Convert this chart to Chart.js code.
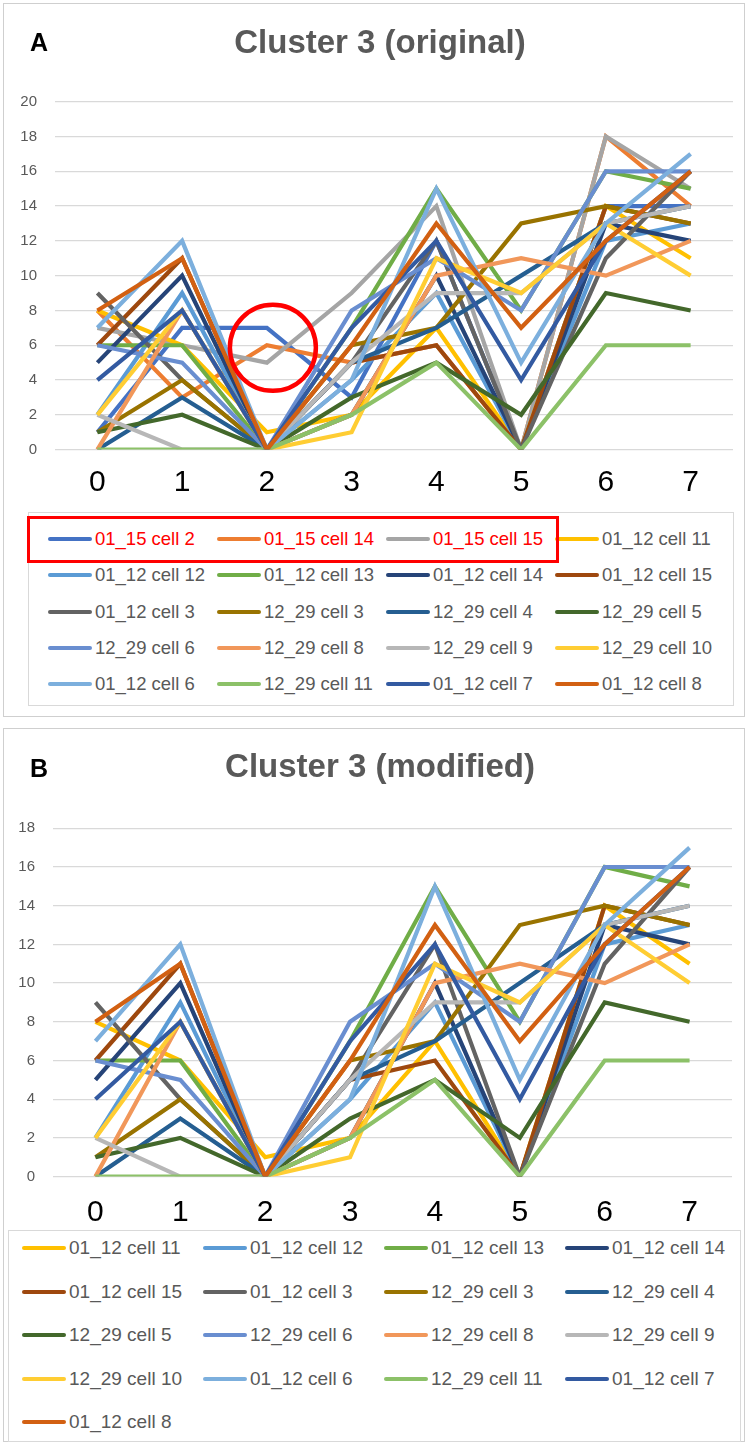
<!DOCTYPE html>
<html>
<head>
<meta charset="utf-8">
<script src="https://cdn.jsdelivr.net/npm/chart.js@4.4.1/dist/chart.umd.min.js"></script>
<style>
  body { margin: 0; background: #fff; font-family: "Liberation Sans", Arial, sans-serif; }
  #page { position: relative; width: 756px; height: 1444px; overflow: hidden; }
  .panel { position: absolute; left: 3px; width: 740px; border: 1px solid #cfcfcf; }
  .tag { position: absolute; font-weight: bold; font-size: 25px; color: #000; line-height: 25px; }
  .title { position: absolute; left: 0; width: 760px; text-align: center; font-weight: bold;
           font-size: 33px; line-height: 40px; color: #595959; }
  canvas { position: absolute; left: 0; }
  .lg { position: absolute; border: 1px solid #d9d9d9; }
  .item { position: absolute; height: 24px; white-space: nowrap; }
  .item .sw { position: absolute; left: 0; top: 10px; width: 44px; height: 4px; border-radius: 2px; }
  .item span { position: absolute; top: 0; line-height: 24px; color: #595959; }
  #redbox { position: absolute; left: 27px; top: 516px; width: 526px; height: 41px; border: 3px solid #ff0000; }
</style>
</head>
<body>
<div id="page">
  <div class="panel" style="top:3px;height:712px;"></div>
  <div class="panel" style="top:728px;height:712px;"></div>
  <canvas id="chartA" width="756" height="500" style="top:0;"></canvas>
  <canvas id="chartB" width="756" height="500" style="top:727px;"></canvas>
  <div class="title" style="top:22px;">Cluster 3 (original)</div>
  <div class="title" style="top:746px;">Cluster 3 (modified)</div>
  <div class="tag" style="left:30px;top:30px;">A</div>
  <div class="tag" style="left:30px;top:756px;">B</div>
  <div class="lg" style="left:28px;top:512px;width:704px;height:192px;"></div>
  <div class="lg" style="left:8px;top:1230px;width:731px;height:210px;"></div>
  <div id="legendA"></div>
  <div id="legendB"></div>
  <div id="redbox"></div>
</div>
<script>
// x categories
const xLabels = ['0', '1', '2', '3', '4', '5', '6', '7'];

// series values
const s0115c2  = [1, 7, 7, 3, 12, 0, 14, 14];
const s0115c14 = [8, 3, 6, 5, 6, 0, 18, 14];
const s0115c15 = [7, 6, 5, 9, 14, 0, 18, 15];
const s0112c11 = [8, 6, 1, 2, 7, 0, 14, 11];
const s0112c12 = [2, 9, 0, 4, 9, 0, 12, 13];
const s0112c13 = [6, 6, 0, 7, 15, 8, 16, 15];
const s0112c14 = [5, 10, 0, 2, 10, 0, 13, 12];
const s0112c15 = [6, 11, 0, 5, 6, 0, 14, 13];
const s0112c3  = [9, 4, 0, 5, 12, 0, 11, 16];
const s1229c3  = [1, 4, 0, 6, 7, 13, 14, 13];
const s1229c4  = [0, 3, 0, 5, 7, 10, 13, 14];
const s1229c5  = [1, 2, 0, 3, 5, 2, 9, 8];
const s1229c6  = [6, 5, 0, 8, 11, 8, 16, 16];
const s1229c8  = [0, 8, 0, 2, 10, 11, 10, 12];
const s1229c9  = [2, 0, 0, 5, 9, 9, 13, 14];
const s1229c10 = [2, 8, 0, 1, 11, 9, 13, 10];
const s0112c6  = [7, 12, 0, 4, 15, 5, 13, 17];
const s1229c11 = [0, 0, 0, 2, 5, 0, 6, 6];
const s0112c7  = [4, 8, 0, 7, 12, 4, 12, 16];
const s0112c8  = [8, 11, 0, 6, 13, 7, 12, 16];

const namesA = ['01_15 cell 2', '01_15 cell 14', '01_15 cell 15', '01_12 cell 11', '01_12 cell 12',
  '01_12 cell 13', '01_12 cell 14', '01_12 cell 15', '01_12 cell 3', '12_29 cell 3', '12_29 cell 4',
  '12_29 cell 5', '12_29 cell 6', '12_29 cell 8', '12_29 cell 9', '12_29 cell 10', '01_12 cell 6',
  '12_29 cell 11', '01_12 cell 7', '01_12 cell 8'];
const valuesA = [s0115c2, s0115c14, s0115c15, s0112c11, s0112c12, s0112c13, s0112c14, s0112c15,
  s0112c3, s1229c3, s1229c4, s1229c5, s1229c6, s1229c8, s1229c9, s1229c10, s0112c6, s1229c11,
  s0112c7, s0112c8];
const colorsA = ['#4472C4', '#ED7D31', '#A5A5A5', '#FFC000', '#5B9BD5', '#70AD47', '#264478',
  '#9E480E', '#636363', '#997300', '#255E91', '#43682B', '#698ED0', '#F1975A', '#B7B7B7',
  '#FFCD33', '#7CAFDD', '#8CC168', '#335AA1', '#D26012'];

// panel B drops the three 01_15 cells
const namesB = namesA.slice(3);
const valuesB = valuesA.slice(3);
const colorsB = colorsA.slice(3);

const yMaxA = 20;
const yMaxB = 18;

const circlePlugin = {
  id: 'circle',
  afterDatasetsDraw(chart) {
    const ctx = chart.ctx;
    const x = chart.scales.x.getPixelForValue(2) + 6;
    const y = chart.scales.y.getPixelForValue(5.85);
    ctx.save();
    ctx.beginPath();
    ctx.arc(x, y, 43, 0, Math.PI * 2);
    ctx.strokeStyle = '#ff0000';
    ctx.lineWidth = 4.5;
    ctx.stroke();
    ctx.restore();
  }
};

function makeChart(id, names, values, colors, yMax, plotLeft, plotTop, padRight, xPad, plugins) {
  const n = names.length;
  return new Chart(document.getElementById(id), {
    type: 'line',
    data: {
      labels: xLabels,
      datasets: names.map((name, i) => ({
        label: name,
        data: values[i],
        borderColor: colors[i],
        backgroundColor: colors[i],
        borderWidth: 4.2,
        pointRadius: 0,
        tension: 0,
        order: n - i   // later series drawn on top, like the original
      }))
    },
    options: {
      responsive: false,
      animation: false,
      layout: { padding: { left: 0, right: padRight, top: plotTop, bottom: 0 } },
      plugins: {
        legend: { display: false },
        tooltip: { enabled: false }
      },
      scales: {
        x: {
          offset: true,
          grid: { display: false },
          border: { display: false },
          ticks: {
            color: '#000',
            padding: xPad,
            font: { family: '"Liberation Sans", Arial, sans-serif', size: 30 }
          },
          afterFit(scale) { scale.height = 50.4; }
        },
        y: {
          min: 0,
          max: yMax,
          grid: { color: '#d9d9d9', lineWidth: 1.3, drawTicks: false },
          border: { display: false },
          ticks: {
            stepSize: 2,
            color: '#595959',
            padding: 18,
            font: { family: '"Liberation Sans", Arial, sans-serif', size: 15 }
          },
          afterFit(scale) { scale.width = plotLeft; }
        }
      }
    },
    plugins: plugins
  });
}

makeChart('chartA', namesA, valuesA, colorsA, yMaxA, 55, 101.7, 23, 7, [circlePlugin]);
makeChart('chartB', namesB, valuesB, colorsB, yMaxB, 53, 101.3, 24, 10, []);

function buildLegend(holder, names, colors, x0, colStep, y0, rowStep, fontSize, redCount) {
  const el = document.getElementById(holder);
  names.forEach((name, i) => {
    const col = i % 4, row = Math.floor(i / 4);
    const item = document.createElement('div');
    item.className = 'item';
    item.style.left = (x0 + col * colStep) + 'px';
    item.style.top = (y0 + row * rowStep - 12) + 'px';
    const sw = document.createElement('div');
    sw.className = 'sw';
    sw.style.background = colors[i];
    const tx = document.createElement('span');
    tx.textContent = name;
    tx.style.left = '47px';
    tx.style.fontSize = fontSize + 'px';
    if (i < redCount) tx.style.color = '#ff0000';
    item.appendChild(sw);
    item.appendChild(tx);
    el.appendChild(item);
  });
}

buildLegend('legendA', namesA, colorsA, 48, 169, 539, 36.3, 18.5, 3);
buildLegend('legendB', namesB, colorsB, 22, 181, 1248, 43.6, 19, 0);
</script>
</body>
</html>
